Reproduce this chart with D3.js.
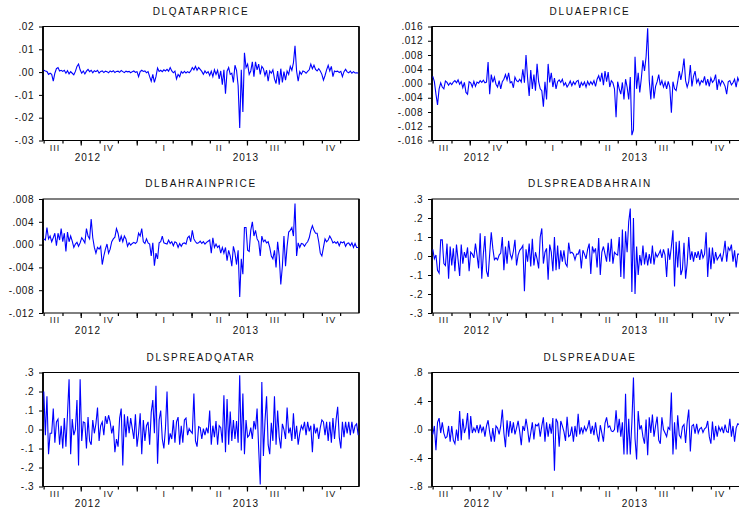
<!DOCTYPE html>
<html>
<head>
<meta charset="utf-8">
<script src="https://cdn.jsdelivr.net/npm/d3@7/dist/d3.min.js"></script>
<style>
  body { margin: 0; background: #fff; }
  svg { display: block; }
  text { font-family: "Liberation Sans", Arial, sans-serif; fill: #111; }
</style>
</head>
<body>
<div id="chart"></div>
<script>
// ---- data (200 obs, Jul 31 2012 .. Dec 31 2013) ----
const titles = ["DLQATARPRICE", "DLUAEPRICE", "DLBAHRAINPRICE", "DLSPREADBAHRAIN", "DLSPREADQATAR", "DLSPREADUAE"];

const qatarPrice = [
  .0008,.0005,.0003,-.001,-.0005,-.001,-.004,-.0005,.0015,.002,.0005,.0008,.0003,.0008,-.0005,.0006,-.0008,.0002,-.0005,-.0012,
  .0003,.0025,.0035,.001,-.0005,.0005,-.0008,.0004,.0012,.0002,.0008,-.0003,.0006,.0002,.0008,-.0004,.0003,.0005,-.0002,.0004,
  .0002,-.0003,.0005,.0001,.0006,-.0002,.0003,.0004,-.0001,.0007,.0002,-.0002,.0004,.0001,.0003,-.0003,.0002,.0005,-.0001,.0002,
  -.002,.0002,.0008,.0003,.0005,-.0003,.0002,-.002,-.004,-.001,-.0045,-.002,.0018,.0003,.0008,.0002,.001,.0005,.0012,.0004,
  .002,.0005,-.0003,.0004,-.003,-.001,-.002,.0002,-.0005,.0003,-.0004,.0002,-.0003,.0005,.002,.001,.0025,.0008,.002,.0012,
  .0003,-.001,.0005,-.0005,.0002,-.0015,.0004,-.002,.001,-.001,.0008,-.003,.0005,-.0055,.001,-.0095,.0004,.002,-.001,-.0005,
  -.0045,.003,.0008,-.006,-.0245,.001,-.0175,.0085,.002,.0035,-.001,.0005,.0045,-.002,.0045,.001,.0035,-.001,.0025,.0015,
  -.0015,.0008,-.004,.0005,-.0005,.001,-.003,-.005,.0005,-.0055,.0015,-.0045,.0002,-.0035,.0005,-.001,.0025,.0008,.004,.0115,
  .0005,-.004,.0002,-.001,.0005,.0002,-.0005,.0003,.001,.0035,.0015,.003,.0012,.0005,.0015,.0005,-.001,-.0035,-.0015,.001,
  .003,.0005,.0025,-.002,.0005,.0002,.0004,-.0002,.0003,-.002,.0002,.0012,.0001,-.0003,.0004,-.0005,.0002,-.0004,-.0003,-.0004
];

const uaePrice = [
  .002,.0005,-.003,-.006,-.0015,.0002,-.001,-.0015,.0007,.0003,-.0005,.0002,-.0003,.0004,.0008,.0002,.001,-.0002,.0005,-.0012,
  .0003,-.0025,-.003,.0005,.0002,-.001,.0006,-.0008,.0004,.0001,.0008,.0003,.0009,.0002,.0004,.006,-.003,.0025,.0003,.0018,
  -.0002,-.001,.0008,-.0015,.0005,.0012,.0025,.001,.003,.0002,.0005,-.0012,.0018,.0008,.0005,.0012,.0004,.004,.0002,.008,
  .0015,-.0035,.0038,-.0015,.0025,-.002,.0055,.0005,-.0015,-.002,-.0065,.0005,-.0045,.0055,.0003,.003,-.001,.0015,-.0015,.0005,
  .001,.0003,.0012,-.0005,.0002,-.001,-.0003,.0007,-.0006,.0005,-.0003,.0006,.0009,-.0012,.0003,-.0005,.0004,-.001,.0006,-.0004,
  .0005,-.0003,.0008,-.0008,.0012,.0022,.0005,.003,-.0005,.0035,.0005,.0032,-.001,.0008,.0002,-.0015,-.0095,.0005,-.0015,-.003,
  .0003,-.0045,.0012,-.001,-.0045,.0018,-.0145,-.013,.0075,-.0015,.003,-.0025,.0015,.0065,.0035,.0075,.0155,.0008,-.0045,.0022,
  -.0042,-.0008,.0005,.0025,-.0005,.0008,-.001,.0004,-.0015,.0006,-.001,-.0082,.0005,-.0015,-.002,.0005,.0035,.001,.0035,.007,
  .0008,-.001,.0005,.0052,-.0008,.002,.0035,.0002,.0012,-.0004,.0008,.0003,.002,-.0005,.0012,-.0008,.0015,.0003,.0009,.0025,
  -.0018,.0012,-.0005,.0008,.0002,-.0008,-.003,.0005,.0008,-.0004,.0002,.0012,-.001,.0016,.0005,.0015,.0008,.0012,.0006,.001
];

const bahrainPrice = [
  .001,.0008,.003,.001,.0015,.0005,.0012,.002,-.0002,.002,.0008,.0028,.0005,.002,-.0012,.0022,.0005,.0015,.0006,-.0005,
  .0001,.0004,-.0003,.0003,.0012,.0008,.0003,.0028,.0015,.001,.0045,.0012,-.0005,-.0015,-.0005,-.0008,-.0003,-.0035,-.002,-.0008,
  .0001,-.0015,-.0008,.0005,.001,.0013,.0028,.002,.0005,.0015,.0005,.0015,.001,-.0003,.0003,-.0001,.0002,.0004,.0002,.0005,
  .002,.0015,.0028,.0005,.0002,.001,.0003,.0001,-.002,.0003,-.0037,-.0015,-.0025,.0003,.0005,.0015,.0003,.0002,.0001,.0008,
  .0002,.0005,-.0002,.0005,.0003,-.0005,.0002,-.0003,.0002,.0003,.0001,.0012,.0015,.0005,.0025,.001,.0005,.0002,.0003,.0006,
  .0002,.0005,.0001,.0004,.0006,.0008,-.0015,.0012,-.0005,.0001,-.0005,-.0002,-.0015,-.0005,-.0015,-.0005,-.0028,-.001,-.002,-.0038,
  -.0003,-.0015,-.0035,-.001,-.0092,-.0025,-.0052,.003,.003,-.001,-.0012,.0025,.004,.0015,.0025,.001,.0005,-.002,.0015,.0005,
  .0008,.0003,.0005,-.0005,-.002,-.0025,-.001,-.004,.0005,-.002,-.007,-.0038,.0015,-.0038,-.0003,.0022,.0025,.003,.0015,.0072,
  -.002,.0003,-.0005,.0002,.0001,-.0003,.0002,.0005,.0012,.0025,.0033,.0025,.002,.002,.0005,-.0015,-.002,-.0005,.001,.0005,
  .0008,.0015,.001,.0003,.0005,.0002,.0005,-.0002,.0005,.0003,.0005,-.0003,.0002,.0003,-.0002,.0003,-.0005,.0002,-.0005,-.0005
];

const spreadBahrain = [
  .035,-.015,.005,-.075,-.09,.085,.085,-.04,-.05,.065,-.12,.05,-.05,.04,-.08,.06,-.02,-.105,.06,-.04,
  .02,-.01,.045,-.08,.02,.01,-.01,.065,.005,-.065,.12,-.12,.01,.105,-.08,-.11,.01,.125,.04,-.02,
  -.01,-.02,.005,.015,.1,-.075,.05,-.04,.08,.01,-.015,.025,.085,-.05,.005,.03,.04,.055,-.185,.035,
  -.03,.065,-.055,.09,-.05,.02,-.015,-.065,.1,.145,-.04,.02,.04,-.125,.06,.02,-.08,.1,-.075,.055,
  -.07,.03,-.03,.03,-.04,-.055,.07,.015,.02,.01,-.02,.01,.01,.035,-.065,.03,.01,-.015,.035,.065,
  -.095,.05,.02,.04,-.06,.095,-.1,.02,.05,.01,-.03,.07,-.03,.09,-.04,.02,.01,.005,.1,-.11,
  .14,-.12,.13,.02,.18,.25,-.19,.2,-.2,.05,-.1,.005,-.05,.055,-.045,.02,-.05,.01,-.04,.055,
  -.045,.015,-.005,.01,.03,-.01,.035,.005,-.11,.04,-.02,.05,.135,-.16,.075,-.06,.08,-.1,-.07,.07,
  -.12,-.04,.1,-.02,.025,-.03,.02,-.01,.025,-.02,.035,-.01,.01,.125,-.11,.045,-.07,.045,-.04,.02,
  -.02,-.005,.01,-.03,.015,.08,-.03,.045,.03,.06,-.03,.03,-.06,.01,.01,-.02,.03,-.01,.02,.005
];

const spreadQatar = [
  .2,-.03,.175,-.13,-.02,-.02,.11,-.07,.04,.055,-.08,.02,-.1,.06,-.09,.08,.265,-.13,.055,-.03,
  .0,.155,-.19,.265,-.06,.04,.035,-.1,.065,-.06,-.08,.05,-.02,.03,.115,-.06,.02,.04,-.03,.07,
  .03,.075,.04,-.02,.02,-.12,-.05,-.09,.06,.11,-.19,.08,-.04,.07,-.02,.06,.005,-.05,.08,-.09,
  -.02,.085,-.13,.05,-.06,.02,.04,-.08,.09,.155,-.02,.23,-.18,.05,.1,-.05,-.1,.005,.2,-.08,
  -.02,-.05,.05,-.07,.04,.065,-.08,.02,-.07,.05,.06,-.03,.005,-.01,-.02,.19,-.06,-.09,.015,.01,
  -.05,.005,-.03,.01,-.02,.1,-.08,.02,-.04,.045,-.08,.02,.01,-.07,.18,-.12,.16,-.08,.095,-.06,
  .05,-.05,.045,-.07,.285,-.11,.19,-.13,.05,-.04,-.03,.01,-.05,.045,.0,.11,-.1,-.29,.25,-.14,
  .045,.175,-.08,-.13,.035,-.06,.175,-.08,.1,-.04,-.1,.03,.0,-.05,.115,-.02,.01,-.06,.085,-.05,
  .02,-.08,-.02,.02,.0,.04,-.03,.04,-.01,.02,-.12,.03,-.02,.01,-.05,.01,.05,.04,-.03,.04,
  -.06,.04,-.07,.06,-.05,.05,.12,-.04,-.1,.04,-.04,.04,-.02,.04,-.03,.04,-.02,.02,.03,-.03
];

const spreadUae = [
  -.07,.05,-.29,.1,.16,-.05,.1,-.05,-.12,-.1,.05,-.17,.05,-.15,-.2,.0,-.16,.26,-.15,.15,
  -.05,.03,.23,-.14,.19,-.05,.02,-.03,.06,-.05,.07,-.03,.04,-.1,.05,.13,-.04,-.17,.02,-.17,
  .05,.02,-.07,.05,.28,-.05,-.25,.13,-.1,.12,-.05,.1,-.07,.02,.12,-.03,-.22,.05,-.02,.15,
  .01,-.18,-.05,.1,-.14,.07,.05,.08,-.1,.05,.17,-.17,.1,-.1,.08,-.06,.16,-.58,.15,.1,
  -.24,.12,.05,-.03,-.16,.18,-.1,-.08,.04,-.17,.05,-.1,.22,-.07,.03,-.05,.04,-.02,.03,.13,
  -.06,.05,-.08,.1,-.07,-.17,.06,-.05,-.17,.09,.17,.03,.05,-.02,-.03,.0,.27,-.04,.15,-.1,
  .1,-.35,.5,-.35,.15,-.35,.1,.73,-.13,-.42,.26,.0,.06,-.1,-.2,.14,-.36,.17,-.05,.21,
  -.1,.05,.18,-.15,-.2,.17,.0,-.05,-.1,.03,.0,.52,-.35,.1,-.28,.2,-.08,-.12,.04,.07,
  -.19,.1,.28,-.31,.05,.07,-.06,.08,-.05,.01,.03,-.04,.01,.03,.12,-.1,-.2,.11,-.15,.05,
  -.1,.04,-.02,.03,-.05,.07,-.03,-.04,.15,-.1,.05,-.17,.02,.08,.07,.02,-.03,.05,-.02,.04
];

const seriesList = [qatarPrice, uaePrice, bahrainPrice, spreadBahrain, spreadQatar, spreadUae];

const yTickLabels = [
  [".02", ".01", ".00", "-.01", "-.02", "-.03"],
  [".016", ".012", ".008", ".004", ".000", "-.004", "-.008", "-.012", "-.016"],
  [".008", ".004", ".000", "-.004", "-.008", "-.012"],
  [".3", ".2", ".1", ".0", "-.1", "-.2", "-.3"],
  [".3", ".2", ".1", ".0", "-.1", "-.2", "-.3"],
  [".8", ".4", ".0", "-.4", "-.8"]
];

const quarterLabels = ["III", "IV", "I", "II", "III", "IV"];
const quarterStarts = ["2012-07-01", "2012-10-01", "2013-01-01", "2013-04-01", "2013-07-01", "2013-10-01"];
const yearLabels = ["2012", "2013"];

const startDate = new Date(2012, 6, 31);
const endDate = new Date(2014, 0, 1);

// ---- layout ----
const W = 739, H = 509;
const colX = [43, 432];
const rowY = [26.5, 199, 372.5];
const pw = 316, ph = 114;

const svg = d3.select("#chart").append("svg")
  .attr("width", W).attr("height", H);
svg.append("rect").attr("width", W).attr("height", H).attr("fill", "#fff");

const N = qatarPrice.length;
const step = (endDate - startDate) / N;
const dates = d3.range(N).map(i => new Date(+startDate + step * (i + 0.5)));

const qDates = quarterStarts.map(s => new Date(s + "T00:00:00"));
const months = d3.timeMonth.range(new Date(2012, 7, 1), endDate);

seriesList.forEach((vals, k) => {
  const col = k % 2, row = Math.floor(k / 2);
  const g = svg.append("g").attr("transform", `translate(${colX[col]},${rowY[row]})`);

  const labels = yTickLabels[k];
  const tickVals = labels.map(s => parseFloat(s));
  const x = d3.scaleTime().domain([startDate, endDate]).range([0, pw]);
  const y = d3.scaleLinear().domain([d3.min(tickVals), d3.max(tickVals)]).range([ph, 0]);

  // title
  g.append("text")
    .attr("x", pw / 2).attr("y", -12)
    .attr("text-anchor", "middle")
    .style("font-size", "10px")
    .style("letter-spacing", "1.7px")
    .text(titles[k]);

  // frame
  g.append("rect")
    .attr("width", pw).attr("height", ph)
    .attr("fill", "none").attr("stroke", "#000").attr("stroke-width", 1);
  g.append("line")
    .attr("x1", 0).attr("x2", 0).attr("y1", 0).attr("y2", ph)
    .attr("stroke", "#000").attr("stroke-width", 1.8);
  g.append("line")
    .attr("x1", pw).attr("x2", pw).attr("y1", 0).attr("y2", ph)
    .attr("stroke", "#000").attr("stroke-width", 1.6);

  // y axis
  const ya = g.append("g")
    .call(d3.axisLeft(y).tickValues(tickVals).tickFormat((d, i) => labels[i]).tickSize(4).tickPadding(5));
  ya.select(".domain").remove();
  ya.selectAll("line").attr("stroke", "#000");
  ya.selectAll("text")
    .style("font-size", "10px")
    .style("letter-spacing", "0.5px")
    .style("font-family", "'Liberation Sans', Arial, sans-serif")
    .attr("fill", "#111");

  // x axis: monthly minor ticks, quarterly major ticks
  const xa = g.append("g").attr("transform", `translate(0,${ph})`)
    .call(d3.axisBottom(x).tickValues(months).tickSize(3).tickFormat(""));
  xa.select(".domain").remove();
  xa.selectAll("line").attr("stroke", "#000").attr("stroke-width", 1.2);
  const xq = g.append("g").attr("transform", `translate(0,${ph})`)
    .call(d3.axisBottom(x).tickValues(qDates.filter(d => d > startDate)).tickSize(5).tickFormat(""));
  xq.select(".domain").remove();
  xq.selectAll("line").attr("stroke", "#000").attr("stroke-width", 1.2);

  quarterLabels.forEach((lab, i) => {
    const q0 = qDates[i];
    const q1 = d3.timeMonth.offset(q0, 3);
    const cx = Math.max((x(q0) + x(q1)) / 2, x(startDate) + 12);
    g.append("text")
      .attr("x", cx).attr("y", ph + 10)
      .attr("text-anchor", "middle")
      .style("font-size", "9px")
      .style("letter-spacing", "1px")
      .text(lab);
  });

  yearLabels.forEach(yr => {
    const y0 = new Date(+yr, 0, 1), y1 = new Date(+yr + 1, 0, 1);
    const a = Math.max(x(y0), 0), b = Math.min(x(y1), pw);
    g.append("text")
      .attr("x", (a + b) / 2 - 2).attr("y", ph + 20.5)
      .attr("text-anchor", "middle")
      .style("font-size", "10px")
      .style("letter-spacing", "1px")
      .text(yr);
  });

  // series line
  const line = d3.line()
    .x((d, i) => x(dates[i]))
    .y(d => y(d));
  g.append("path")
    .datum(vals)
    .attr("d", line)
    .attr("fill", "none")
    .attr("stroke", "#0000ff")
    .attr("stroke-width", 1.1)
    .attr("stroke-linejoin", "miter");
});
</script>
</body>
</html>
